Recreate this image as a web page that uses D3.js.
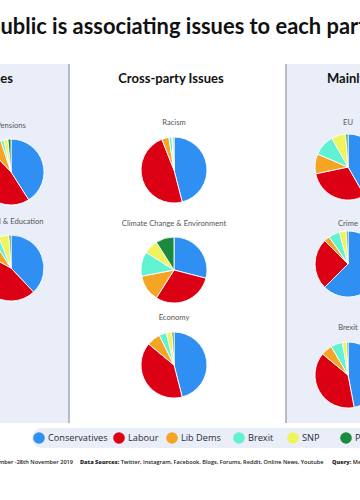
<!DOCTYPE html>
<html>
<head>
<meta charset="utf-8">
<script src="https://cdn.jsdelivr.net/npm/d3@7"></script>
<style>
  html, body { margin: 0; padding: 0; background: #ffffff; }
  svg { display: block; }
</style>
</head>
<body>
<svg id="chart" width="360" height="500"></svg>
<script>
// ---------- DATA ----------
const parties = ["Conservatives", "Labour", "Lib Dems", "Brexit", "SNP", "Plaid Cymru"];
const partyColors = ["#2f8ff2", "#dc0014", "#f5a424", "#60f2d2", "#eef55c", "#1b8a3c"];

const groupTitles = ["Mainly Labour Issues", "Cross-party Issues", "Mainly Conservative Issues"];

const labourIssues = ["Pensions", "School & Education"];
const crossIssues = ["Racism", "Climate Change & Environment", "Economy"];
const conservativeIssues = ["EU", "Crime", "Brexit"];

// share of mentions (%) per party, in party order
const pensions   = [41, 47, 7, 1.5, 2, 1.5];
const education  = [38, 45, 8, 3, 5, 1];
const racism     = [46, 48, 3.5, 1.5, 0.5, 0.5];
const climate    = [29, 30, 13, 12, 7, 9];
const economy    = [46, 40, 6.7, 3.6, 2.7, 1];
const eu         = [41.7, 30, 9.7, 10.5, 7, 1.1];
const crime      = [62.5, 25, 2.8, 5.5, 3.3, 0.9];
const brexit     = [47, 39, 5.5, 5.8, 2, 0.7];

const titleText = "How the public is associating issues to each party";
const periodText = "Time Period: 1st November -28th November 2019";
const sourcesLabel = "Data Sources:";
const sourcesText = "Twitter, Instagram, Facebook, Blogs, Forums, Reddit, Online News, Youtube";
const queryLabel = "Query:";
const queryText = "Mentions of each party and issue";

// ---------- LAYOUT ----------
const svg = d3.select("#chart");
const panelFill = "#e9eef9";
const font = "'Open Sans', 'Noto Sans', sans-serif";

const groups = [
  { title: groupTitles[0], issues: labourIssues, values: [pensions, education], cx: 11, rowY: [172, 268], labelY: [128, 224] },
  { title: groupTitles[1], issues: crossIssues, values: [racism, climate, economy], cx: 174, rowY: [170, 270, 365], labelY: [125, 226, 320] },
  { title: groupTitles[2], issues: conservativeIssues, values: [eu, crime, brexit], cx: 348, rowY: [167, 264, 375], labelY: [125, 226, 330] }
];

// side panels
svg.append("rect").attr("x", -10).attr("y", 64).attr("width", 79).attr("height", 359).attr("fill", panelFill);
svg.append("line").attr("x1", 69).attr("x2", 69).attr("y1", 64).attr("y2", 423).attr("stroke", "#8f949c").attr("stroke-width", 1.2);
svg.append("rect").attr("x", 286).attr("y", 64).attr("width", 90).attr("height", 359).attr("fill", panelFill);
svg.append("line").attr("x1", 286).attr("x2", 286).attr("y1", 64).attr("y2", 423).attr("stroke", "#8f949c").attr("stroke-width", 1.2);

// title
const title = svg.append("text")
  .attr("y", 33.5)
  .attr("font-family", "Lato, 'Open Sans', sans-serif")
  .attr("font-weight", 700)
  .attr("font-size", 17)
  .attr("fill", "#111")
  .text(titleText);
{
  const node = title.node();
  const pIdx = titleText.indexOf("public");
  const rIdx = titleText.indexOf("party") + 2;
  const startP = node.getStartPositionOfChar(pIdx + 1).x;
  const endR = node.getEndPositionOfChar(rIdx).x;
  const w = endR - startP;
  const fs = 17 * 358 / w;
  title.attr("font-size", fs);
  const s2 = node.getStartPositionOfChar(pIdx + 1).x;
  title.attr("x", 0.5 - s2);
}

// group titles
const gt = [
  { anchor: "end", x: 13 },
  { anchor: "middle", x: 171 },
  { anchor: "start", x: 327 }
];
groups.forEach((g, i) => {
  svg.append("text")
    .attr("x", gt[i].x).attr("y", 83)
    .attr("text-anchor", gt[i].anchor)
    .attr("font-family", "Lato, 'Open Sans', sans-serif")
    .attr("font-weight", 700)
    .attr("font-size", 13)
    .attr("fill", "#111")
    .text(g.title);
});

// pies
const color = d3.scaleOrdinal().domain(parties).range(partyColors);
const pie = d3.pie().sort(null).value(d => d.v);
const radius = 33;
const arc = d3.arc().innerRadius(0).outerRadius(radius);

groups.forEach(g => {
  g.issues.forEach((issue, j) => {
    const gg = svg.append("g").attr("transform", `translate(${g.cx},${g.rowY[j]})`);
    const data = parties.map((p, k) => ({ p, v: g.values[j][k] }));
    gg.selectAll("path").data(pie(data)).join("path")
      .attr("d", arc)
      .attr("fill", d => color(d.data.p))
      .attr("stroke", "#ffffff")
      .attr("stroke-width", 0.9)
      .attr("stroke-linejoin", "round");
    svg.append("text")
      .attr("x", g.cx).attr("y", g.labelY[j])
      .attr("text-anchor", "middle")
      .attr("font-family", "Lato, 'Open Sans', sans-serif")
      .attr("font-size", 7.6)
      .attr("fill", "#555")
      .text(issue);
  });
});

// legend
svg.append("rect").attr("x", 32).attr("y", 428).attr("width", 360).attr("height", 20).attr("rx", 10).attr("fill", panelFill);
const legendPos = { "Conservatives": 39, "Labour": 119, "Lib Dems": 172, "Brexit": 239, "SNP": 293, "Plaid Cymru": 346 };
const lg = svg.selectAll("g.leg").data(parties).join("g").attr("class", "leg")
  .attr("transform", d => `translate(${legendPos[d]},438)`);
lg.append("circle").attr("r", 5.8).attr("fill", d => color(d));
lg.append("text").attr("x", 9).attr("y", 3.3)
  .attr("font-family", font).attr("font-size", 9.2).attr("fill", "#2a2a3a")
  .text(d => d);

// footer
const fy = 464;
svg.append("text").attr("x", 73).attr("y", fy).attr("text-anchor", "end")
  .attr("font-family", font).attr("font-size", 5.6).attr("font-weight", 600).attr("fill", "#222")
  .text(periodText);
const src = svg.append("text").attr("x", 80).attr("y", fy)
  .attr("font-family", font).attr("font-size", 5.6).attr("fill", "#222");
src.append("tspan").attr("font-weight", 800).text(sourcesLabel + " ");
src.append("tspan").attr("font-weight", 600).text(sourcesText);
const q = svg.append("text").attr("x", 332).attr("y", fy)
  .attr("font-family", font).attr("font-size", 5.6).attr("fill", "#222");
q.append("tspan").attr("font-weight", 800).text(queryLabel + " ");
q.append("tspan").attr("font-weight", 600).text(queryText);
</script>
</body>
</html>
